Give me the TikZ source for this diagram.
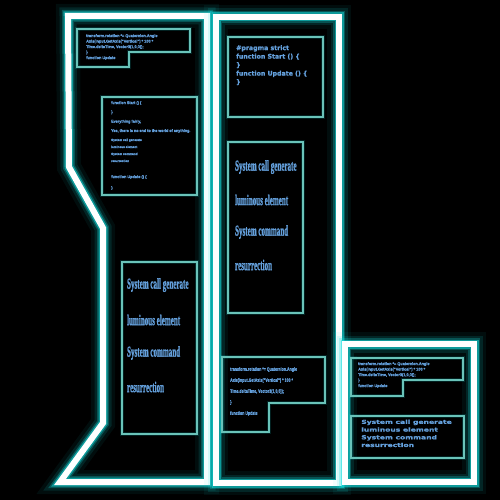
\documentclass[tikz,border=0pt]{standalone}
\usepackage{fontspec}
\setmainfont{Liberation Sans}[BoldFeatures={FakeBold=1.2}]
\newfontfamily\serifc{Liberation Serif}[BoldFeatures={FakeBold=1.8}]
\newfontfamily\widef{DejaVu Sans}[BoldFeatures={FakeBold=1}]
\definecolor{glowc}{RGB}{20,225,225}
\definecolor{boxc}{RGB}{105,195,185}
\definecolor{textc}{RGB}{100,160,220}
\begin{document}
\begin{tikzpicture}[x=1pt,y=-1pt,
  neon/.style={line join=miter,
    preaction={draw=glowc,line width=24pt,draw opacity=0.06},
    preaction={draw=glowc,line width=17pt,draw opacity=0.12},
    preaction={draw=glowc,line width=12pt,draw opacity=0.25},
    preaction={draw=glowc,line width=9pt,draw opacity=0.5},
    draw=white, line width=6pt},
  ibox/.style={line join=miter,
    preaction={draw=glowc,line width=4.5pt,draw opacity=0.15},
    draw=boxc, line width=1.5pt},
  code/.style={text=textc, font=\bfseries\fontsize{4}{5.5}\selectfont, align=left, inner sep=0, anchor=north west, xscale=0.96},
  big/.style={text=textc, inner sep=0, anchor=west, font=\serifc\bfseries\fontsize{15}{15}\selectfont, xscale=0.47},
  wide/.style={text=textc, inner sep=0, anchor=north west, align=left, font=\widef\bfseries\fontsize{5.5}{7.7}\selectfont, xscale=1.38}]
\fill[black] (0,0) rectangle (500,500);
\useasboundingbox (0,0) rectangle (500,500);
% outer neon shapes
\draw[neon] (68,16) -- (207,16) -- (207,482) -- (60,482) -- (103,423) -- (103,228) -- (69,167) -- cycle;
\draw[neon] (216,17) rectangle (339,483);
\draw[neon] (345,344) rectangle (474,482);
% inner boxes
\draw[ibox] (77,29) -- (190,29) -- (190,52) -- (129,52) -- (129,67) -- (77,67) -- cycle;
\draw[ibox] (102,97) rectangle (197,195);
\draw[ibox] (228,37) rectangle (323,117);
\draw[ibox] (228,142) rectangle (303,313);
\draw[ibox] (122,262) rectangle (197,434);
\draw[ibox] (222,357) -- (325,357) -- (325,403) -- (269,403) -- (269,432) -- (222,432) -- cycle;
\draw[ibox] (351,358) -- (463,358) -- (463,380) -- (403,380) -- (403,396) -- (351,396) -- cycle;
\draw[ibox] (351,416) rectangle (464,458);
% texts
\node[code] (ta) at (86,34) {transform.rotation *= Quaternion.Angle\\Axis(Input.GetAxis("Vertical") * 100 *\\Time.deltaTime, Vector3(1,0,0));\\\}\\function Update};
\node[code, xscale=0.97, font=\bfseries\fontsize{4}{9.3}\selectfont] (td1) at (111,101) {function Start () \{\\\}\\Everything fairly,\\Yes, there is no end to the world of anything.};
\node[code, font=\bfseries\fontsize{3.2}{7}\selectfont] (td2) at (111,138.5) {System call generate\\luminous element\\System command\\resurrection};
\node[code, font=\bfseries\fontsize{4}{11}\selectfont] (td3) at (111,175) {function Update () \{\\\}};
\node[code, xscale=1, font=\widef\bfseries\fontsize{6.5}{8.5}\selectfont] (te) at (236,45) {\#pragma strict\\function Start () \{\\\}\\function Update () \{\\\}};
\node[big] (f1) at (235,167) {System call generate};
\node[big] (f2) at (235,200) {luminous element};
\node[big] (f3) at (235,232) {System command};
\node[big] (f4) at (235,265) {resurrection};
\node[big] (g1) at (127,285) {System call generate};
\node[big] (g2) at (127,320) {luminous element};
\node[big] (g3) at (127,353) {System command};
\node[big] (g4) at (127,387) {resurrection};
\node[code, xscale=0.75, font=\bfseries\fontsize{5}{11}\selectfont] (tb) at (230,367) {transform.rotation *= Quaternion.Angle\\Axis(Input.GetAxis("Vertical") * 100 *\\Time.deltaTime, Vector3(1,0,0));\\\}\\function Update};
\node[code] (tc) at (358,362) {transform.rotation *= Quaternion.Angle\\Axis(Input.GetAxis("Vertical") * 100 *\\Time.deltaTime, Vector3(1,0,0));\\\}\\function Update};
\node[wide] (th) at (361,419.5) {System call generate\\luminous element\\System command\\resurrection};
\end{tikzpicture}
\end{document}
